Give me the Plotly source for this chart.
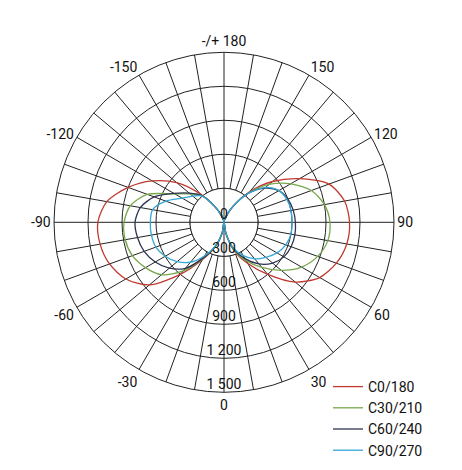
import plotly.graph_objects as go

# Gamma angles (deg) for one half-plane, 0 = straight down, 180 = straight up
ANGLES = [0, 10, 20, 30, 40, 50, 60, 70, 80, 90, 100, 110, 120, 130, 140, 150, 160, 170, 180]

# Luminous intensity (cd) – right half (+gamma) and left half (-gamma)
C0_RIGHT = [0, 100, 270, 420, 600, 820, 975, 1055, 1100, 1108, 1080, 985, 770, 560, 350, 170, 60, 15, 0]
C0_LEFT = [0, 100, 230, 380, 600, 860, 1000, 1075, 1110, 1113, 1050, 900, 730, 545, 330, 160, 60, 15, 0]
C30_RIGHT = [0, 100, 260, 390, 520, 660, 790, 880, 930, 935, 900, 820, 680, 520, 340, 170, 60, 15, 0]
C30_LEFT = [0, 100, 230, 360, 560, 720, 800, 860, 885, 882, 840, 720, 500, 390, 310, 160, 60, 15, 0]
C60_RIGHT = [0, 100, 250, 370, 480, 560, 610, 630, 635, 630, 620, 600, 560, 470, 335, 170, 60, 15, 0]
C60_LEFT = [0, 100, 230, 360, 530, 630, 700, 750, 775, 785, 750, 655, 510, 400, 310, 160, 60, 15, 0]
C90_RIGHT = [0, 100, 240, 340, 420, 480, 540, 580, 600, 600, 600, 590, 560, 480, 330, 170, 60, 15, 0]
C90_LEFT = [0, 100, 220, 340, 460, 540, 600, 640, 650, 650, 640, 545, 425, 360, 305, 160, 60, 15, 0]

SERIES_NAMES = ["C0/180", "C30/210", "C60/240", "C90/270"]
SERIES_RIGHT = [C0_RIGHT, C30_RIGHT, C60_RIGHT, C90_RIGHT]
SERIES_LEFT = [C0_LEFT, C30_LEFT, C60_LEFT, C90_LEFT]
COLORS = ["#c0392f", "#78a84e", "#2c3452", "#35a6d6"]

RADIAL_TICKS = [300, 600, 900, 1200, 1500]
RADIAL_TICK_TEXT = ["300", "600", "900", "1 200", "1 500"]

ANGULAR_LABELS = {0: "0", 30: "30", 60: "60", 90: "90", 120: "120", 150: "150",
                  180: "-/+ 180", 210: "-150", 240: "-120", 270: "-90", 300: "-60", 330: "-30"}

FONT = "Roboto"
TXT = "#111"
W, H = 454, 462  # page body has an 8px margin inside the 462x470 window
OFF = 8

fig = go.Figure()

# blank inner disc (hides spokes inside the 300 ring)
disc_theta = list(range(0, 361, 5))
fig.add_trace(go.Scatterpolar(r=[RADIAL_TICKS[0]] * len(disc_theta), theta=disc_theta,
                              mode="lines", fill="toself", fillcolor="white",
                              line=dict(color="#222", width=1), showlegend=False, hoverinfo="skip"))
# main cross through centre
fig.add_trace(go.Scatterpolar(r=[RADIAL_TICKS[0], 0, RADIAL_TICKS[0]], theta=[0, 0, 180],
                              mode="lines", line=dict(color="#222", width=1),
                              showlegend=False, hoverinfo="skip"))
fig.add_trace(go.Scatterpolar(r=[RADIAL_TICKS[0], 0, RADIAL_TICKS[0]], theta=[90, 90, 270],
                              mode="lines", line=dict(color="#222", width=1),
                              showlegend=False, hoverinfo="skip"))

for name, right, left, color in zip(SERIES_NAMES, SERIES_RIGHT, SERIES_LEFT, COLORS):
    theta = ANGLES + [-a for a in ANGLES[::-1]]
    r = right + left[::-1]
    fig.add_trace(go.Scatterpolar(r=r, theta=theta, mode="lines", name=name,
                                  line=dict(color=color, width=1.3, shape="spline", smoothing=0.8)))

# radial scale labels along the 0 direction
fig.add_trace(go.Scatterpolar(r=[0] + RADIAL_TICKS, theta=[0] * (len(RADIAL_TICKS) + 1),
                              mode="text", text=["0"] + RADIAL_TICK_TEXT,
                              textposition="top center",
                              textfont=dict(family=FONT, size=14, color=TXT),
                              showlegend=False, hoverinfo="skip", cliponaxis=False))

tickvals = list(range(0, 360, 10))
ticktext = [ANGULAR_LABELS.get(v, "") for v in tickvals]

cx, cy, R = 224 - OFF, 222.3 - OFF, 170

fig.update_layout(
    width=W, height=H,
    margin=dict(l=0, r=0, t=0, b=0),
    paper_bgcolor="white",
    font=dict(family=FONT, size=14, color=TXT),
    polar=dict(
        domain=dict(x=[(cx - R) / W, (cx + R) / W], y=[1 - (cy + R) / H, 1 - (cy - R) / H]),
        bgcolor="white",
        angularaxis=dict(rotation=270, direction="counterclockwise",
                         tickmode="array", tickvals=tickvals, ticktext=ticktext,
                         showline=True, linecolor="#222", linewidth=1,
                         gridcolor="#222", gridwidth=1,
                         ticks="",
                         tickfont=dict(family=FONT, size=14, color=TXT)),
        radialaxis=dict(range=[0, 1500], tickmode="array", tickvals=RADIAL_TICKS,
                        showticklabels=False, ticks="", showline=False,
                        gridcolor="#222", gridwidth=1, angle=270),
    ),
    legend=dict(x=320 / W, y=1 - 363 / H, xanchor="left", yanchor="top",
                font=dict(family=FONT, size=14, color=TXT),
                bgcolor="rgba(0,0,0,0)", tracegroupgap=0, itemwidth=30),
)

fig.write_html("out.html")
